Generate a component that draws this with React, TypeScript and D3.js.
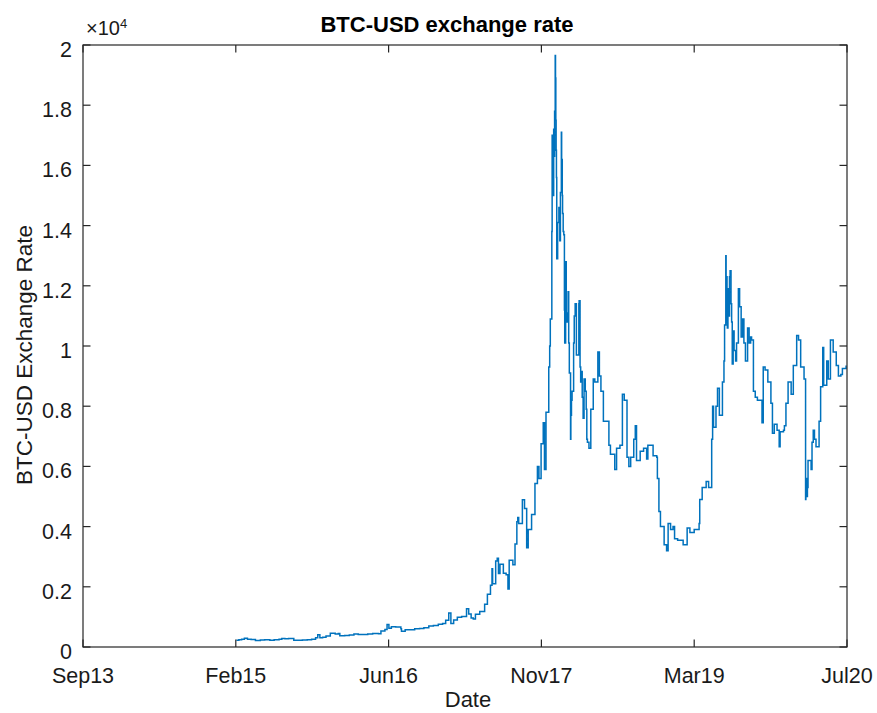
import React from "react";
import * as d3 from "d3";

// ---- Data ----
const TITLE = "BTC-USD exchange rate";
const X_LABEL = "Date";
const Y_LABEL = "BTC-USD Exchange Rate";

const X_DOMAIN = ["2013-09-30", "2020-07-25"];
const X_TICKS = ["2013-09-30", "2015-02-10", "2016-06-22", "2017-11-02", "2019-03-15", "2020-07-25"];
const Y_TICKS = [0, 0.2, 0.4, 0.6, 0.8, 1, 1.2, 1.4, 1.6, 1.8, 2]; // x 10^4

const PRICES_2015: [string, number][] = [
  ["2015-02-12", 221], ["2015-02-20", 244], ["2015-03-01", 260], ["2015-03-10", 291],
  ["2015-03-20", 261], ["2015-04-01", 247], ["2015-04-15", 219], ["2015-05-01", 232],
  ["2015-05-15", 237], ["2015-06-01", 223], ["2015-06-15", 237], ["2015-07-01", 258],
  ["2015-07-10", 284], ["2015-07-20", 278], ["2015-08-01", 281], ["2015-08-18", 225],
  ["2015-09-01", 228], ["2015-09-15", 230], ["2015-10-01", 238], ["2015-10-15", 255],
  ["2015-10-28", 304], ["2015-11-04", 403], ["2015-11-11", 310], ["2015-11-20", 325],
  ["2015-12-01", 362], ["2015-12-15", 455], ["2015-12-31", 430],
];

const PRICES_2016: [string, number][] = [
  ["2016-01-10", 448], ["2016-01-15", 375], ["2016-01-31", 378], ["2016-02-15", 400],
  ["2016-03-01", 433], ["2016-03-15", 415], ["2016-04-01", 417], ["2016-04-15", 430],
  ["2016-05-01", 450], ["2016-05-20", 442], ["2016-05-28", 530], ["2016-06-10", 580],
  ["2016-06-17", 750], ["2016-06-23", 620], ["2016-07-01", 675], ["2016-07-15", 665],
  ["2016-08-01", 610], ["2016-08-03", 520], ["2016-08-15", 570], ["2016-09-01", 575],
  ["2016-09-15", 607], ["2016-10-01", 612], ["2016-10-15", 640], ["2016-10-31", 700],
  ["2016-11-15", 712], ["2016-12-01", 755], ["2016-12-15", 778], ["2016-12-25", 890],
];

const PRICES_2017: [string, number][] = [
  ["2017-01-04", 1130], ["2017-01-11", 780], ["2017-01-20", 896], ["2017-02-01", 985],
  ["2017-02-15", 1010], ["2017-03-03", 1270], ["2017-03-10", 1100], ["2017-03-18", 960],
  ["2017-03-25", 930], ["2017-04-01", 1090], ["2017-04-15", 1180], ["2017-05-01", 1420],
  ["2017-05-10", 1750], ["2017-05-20", 2050], ["2017-05-25", 2600], ["2017-05-27", 2100],
  ["2017-06-06", 2860], ["2017-06-11", 2950], ["2017-06-15", 2440], ["2017-06-20", 2750],
  ["2017-07-01", 2450], ["2017-07-10", 2400], ["2017-07-16", 1930], ["2017-07-20", 2880],
  ["2017-08-01", 2730], ["2017-08-08", 3420], ["2017-08-14", 4160], ["2017-08-17", 4300],
  ["2017-08-20", 4100], ["2017-09-01", 4890], ["2017-09-08", 4600], ["2017-09-15", 3300],
  ["2017-09-20", 3900], ["2017-10-01", 4400], ["2017-10-12", 5430], ["2017-10-20", 6000],
  ["2017-10-25", 5600], ["2017-11-01", 6750], ["2017-11-08", 7450], ["2017-11-12", 5900],
  ["2017-11-17", 7800], ["2017-11-26", 9300], ["2017-11-29", 10000], ["2017-12-01", 10900],
  ["2017-12-06", 13800], ["2017-12-07", 17000], ["2017-12-08", 16500], ["2017-12-09", 15200],
  ["2017-12-10", 15000], ["2017-12-12", 17200], ["2017-12-13", 16300], ["2017-12-15", 17800],
  ["2017-12-17", 19650], ["2017-12-18", 18900], ["2017-12-19", 17500], ["2017-12-20", 16500],
  ["2017-12-21", 15600], ["2017-12-22", 12900], ["2017-12-25", 14100], ["2017-12-29", 14600],
];

const PRICES_2018: [string, number][] = [
  ["2018-01-01", 13500], ["2018-01-03", 15100], ["2018-01-06", 17100], ["2018-01-07", 16200],
  ["2018-01-09", 15000], ["2018-01-10", 14400], ["2018-01-12", 13800], ["2018-01-14", 13700],
  ["2018-01-16", 11200], ["2018-01-17", 10100], ["2018-01-20", 12800], ["2018-01-22", 10800],
  ["2018-01-26", 11100], ["2018-01-28", 11800], ["2018-01-30", 10100], ["2018-02-01", 9100],
  ["2018-02-05", 6900], ["2018-02-06", 7700], ["2018-02-08", 8200], ["2018-02-10", 8500],
  ["2018-02-13", 8500], ["2018-02-15", 10100], ["2018-02-17", 11000], ["2018-02-20", 11400],
  ["2018-02-24", 9700], ["2018-03-04", 11400], ["2018-03-05", 11500], ["2018-03-08", 9300],
  ["2018-03-10", 8800], ["2018-03-13", 9150], ["2018-03-15", 8300], ["2018-03-18", 7600],
  ["2018-03-21", 8900], ["2018-03-25", 8500], ["2018-03-28", 7900], ["2018-03-30", 6900],
  ["2018-04-01", 6800], ["2018-04-06", 6600], ["2018-04-12", 7900],
  ["2018-04-20", 8900], ["2018-04-25", 8800], ["2018-05-05", 9800], ["2018-05-10", 9000],
  ["2018-05-15", 8500], ["2018-05-23", 7500], ["2018-06-01", 7500], ["2018-06-10", 6700],
  ["2018-06-15", 6400], ["2018-06-29", 5900], ["2018-07-05", 6600], ["2018-07-16", 6700],
  ["2018-07-24", 8400], ["2018-07-30", 8200], ["2018-08-08", 6300], ["2018-08-14", 6000],
  ["2018-08-20", 6300], ["2018-08-30", 6900], ["2018-09-04", 7350], ["2018-09-08", 6200],
  ["2018-09-20", 6500], ["2018-10-01", 6600], ["2018-10-11", 6250], ["2018-10-15", 6700],
  ["2018-11-01", 6350], ["2018-11-13", 6300], ["2018-11-15", 5600], ["2018-11-20", 4500],
  ["2018-11-25", 4000], ["2018-11-30", 4000], ["2018-12-07", 3400], ["2018-12-15", 3200],
  ["2018-12-20", 4100], ["2018-12-28", 3900],
];

const PRICES_2019: [string, number][] = [
  ["2019-01-05", 4000], ["2019-01-10", 3600], ["2019-01-20", 3550], ["2019-02-07", 3400],
  ["2019-02-20", 3950], ["2019-03-01", 3800], ["2019-03-15", 3900], ["2019-03-31", 4100],
  ["2019-04-02", 4900], ["2019-04-10", 5300], ["2019-04-23", 5500], ["2019-05-01", 5300],
  ["2019-05-11", 6900], ["2019-05-14", 8000], ["2019-05-17", 7300], ["2019-05-25", 8000],
  ["2019-05-30", 8600], ["2019-06-05", 7700], ["2019-06-15", 8800], ["2019-06-20", 9500],
  ["2019-06-22", 10700], ["2019-06-26", 13000], ["2019-06-27", 11200], ["2019-06-28", 12300],
  ["2019-06-30", 10800], ["2019-07-01", 10600], ["2019-07-03", 11900], ["2019-07-05", 11000],
  ["2019-07-08", 12300], ["2019-07-10", 12500], ["2019-07-13", 11400], ["2019-07-15", 10800],
  ["2019-07-17", 9400], ["2019-07-20", 10500], ["2019-07-23", 9850], ["2019-07-28", 9500],
  ["2019-07-31", 10100], ["2019-08-06", 11900], ["2019-08-10", 11300], ["2019-08-15", 10300],
  ["2019-08-20", 10900], ["2019-08-24", 10100], ["2019-08-29", 9500], ["2019-09-05", 10600],
  ["2019-09-10", 10100], ["2019-09-15", 10300], ["2019-09-18", 10200],
  ["2019-09-24", 8500], ["2019-09-30", 8300], ["2019-10-07", 8200], ["2019-10-22", 7450],
  ["2019-10-26", 9300], ["2019-11-01", 9200], ["2019-11-10", 8800], ["2019-11-20", 8100],
  ["2019-11-25", 7100], ["2019-12-01", 7400], ["2019-12-10", 7200], ["2019-12-17", 6650],
  ["2019-12-20", 7150], ["2019-12-31", 7200],
];

const PRICES_2020: [string, number][] = [
  ["2020-01-03", 7350], ["2020-01-08", 8100], ["2020-01-15", 8800], ["2020-01-25", 8400],
  ["2020-02-01", 9350], ["2020-02-12", 10350], ["2020-02-18", 10200], ["2020-02-25", 9300],
  ["2020-03-07", 8900], ["2020-03-12", 4900], ["2020-03-13", 5600], ["2020-03-16", 5000],
  ["2020-03-18", 5300], ["2020-03-20", 6200], ["2020-03-30", 5900], ["2020-04-02", 6800],
  ["2020-04-06", 7200], ["2020-04-10", 6900], ["2020-04-15", 6650], ["2020-04-25", 7500],
  ["2020-04-30", 8650], ["2020-05-07", 9950], ["2020-05-10", 8700], ["2020-05-20", 9500],
  ["2020-05-25", 8900], ["2020-06-01", 10200], ["2020-06-10", 9800], ["2020-06-20", 9350],
  ["2020-06-27", 9000], ["2020-07-05", 9050], ["2020-07-10", 9250], ["2020-07-22", 9350],
];

// ---- Layout ----
const W = 877;
const H = 713;
const M = { left: 83, right: 847, top: 45, bottom: 647 };
const TICK_LEN = 7.5;
const AXIS_COLOR = "#262626";
const LINE_COLOR = "#0072BD";
const FONT = "'Liberation Sans', Arial, Helvetica, sans-serif";

export default function App() {
  const parse = d3.timeParse("%Y-%m-%d");
  const fmt = d3.timeFormat("%b%y");
  const series = [
    ...PRICES_2015, ...PRICES_2016, ...PRICES_2017,
    ...PRICES_2018, ...PRICES_2019, ...PRICES_2020,
  ].map(([d, v]) => ({ date: parse(d) as Date, value: v }));

  const x = d3
    .scaleTime()
    .domain(X_DOMAIN.map((d) => parse(d) as Date))
    .range([M.left, M.right]);
  const y = d3.scaleLinear().domain([0, 20000]).range([M.bottom, M.top]);

  const line = d3
    .line<{ date: Date; value: number }>()
    .x((d) => x(d.date))
    .y((d) => y(d.value))
    .curve(d3.curveStepAfter);

  const xTicks = X_TICKS.map((d) => parse(d) as Date);

  return (
    <svg
      width={W}
      height={H}
      style={{ position: "absolute", left: 0, top: 0, background: "#fff" }}
      fontFamily={FONT}
    >
      <rect x={0} y={0} width={W} height={H} fill="#fff" />
      <path d={line(series) || ""} fill="none" stroke={LINE_COLOR} strokeWidth={1.5} />

      {/* box */}
      <rect
        x={M.left}
        y={M.top}
        width={M.right - M.left}
        height={M.bottom - M.top}
        fill="none"
        stroke={AXIS_COLOR}
        strokeWidth={1.2}
      />

      {/* x ticks */}
      {xTicks.map((t, i) => {
        const px = x(t);
        return (
          <g key={"xt" + i}>
            <line x1={px} x2={px} y1={M.bottom} y2={M.bottom - TICK_LEN} stroke={AXIS_COLOR} strokeWidth={1.2} />
            <line x1={px} x2={px} y1={M.top} y2={M.top + TICK_LEN} stroke={AXIS_COLOR} strokeWidth={1.2} />
            <text x={px} y={683} textAnchor="middle" fontSize={21.5} fill="#1a1a1a">
              {fmt(t)}
            </text>
          </g>
        );
      })}

      {/* y ticks */}
      {Y_TICKS.map((t, i) => {
        const py = y(t * 10000);
        return (
          <g key={"yt" + i}>
            <line x1={M.left} x2={M.left + TICK_LEN} y1={py} y2={py} stroke={AXIS_COLOR} strokeWidth={1.2} />
            <line x1={M.right} x2={M.right - TICK_LEN} y1={py} y2={py} stroke={AXIS_COLOR} strokeWidth={1.2} />
            <text x={72} y={py + 12} textAnchor="end" fontSize={21.5} fill="#1a1a1a">
              {String(t)}
            </text>
          </g>
        );
      })}

      {/* exponent */}
      <text x={86} y={35} fontSize={20} fill="#1a1a1a">
        ×10
        <tspan dy={-7} fontSize={13}>4</tspan>
      </text>

      {/* title */}
      <text x={447} y={31.5} textAnchor="middle" fontSize={22} fontWeight="bold" fill="#000">
        {TITLE}
      </text>

      {/* x label */}
      <text x={468} y={707} textAnchor="middle" fontSize={22} fill="#1a1a1a">
        {X_LABEL}
      </text>

      {/* y label */}
      <text
        transform={`translate(32, 355) rotate(-90)`}
        textAnchor="middle"
        fontSize={22.5}
        fill="#1a1a1a"
      >
        {Y_LABEL}
      </text>
    </svg>
  );
}
